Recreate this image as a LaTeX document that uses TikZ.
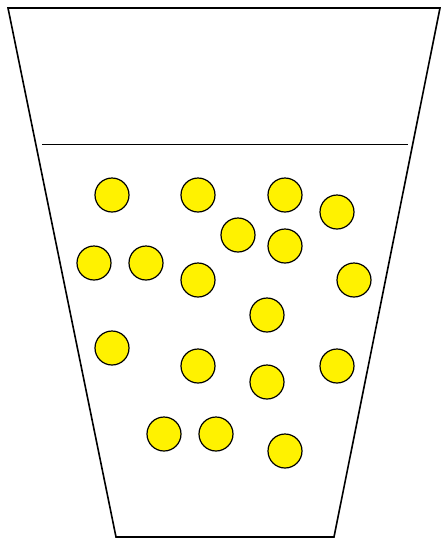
\documentclass[tikz,border=0pt]{standalone}
\begin{document}
\begin{tikzpicture}[x=1pt,y=-1pt,
  cupline/.style={draw=black,line width=1.6pt,line join=miter},
  ball/.style={circle,draw=black,fill=yellow,line width=1.2pt,minimum size=34pt,inner sep=0pt}]
\useasboundingbox (0,0) rectangle (441,539);
\coordinate (tl) at (8,8);
\coordinate (tr) at (440,8);
\coordinate (br) at (334,537);
\coordinate (bl) at (116,537);
\draw[cupline] (tl) -- (tr) -- (br) -- (bl) -- cycle;
\coordinate (wl) at (42,144.5);
\coordinate (wr) at (408,144.5);
\draw[cupline] (wl) -- (wr);
\foreach \i/\x/\y in {1/112/195,2/198/195,3/285/195,4/337/212,5/238/235,6/285/246,
  7/94/263,8/146/263,9/198/280,10/354/280,11/267/315,12/112/348,13/198/366,
  14/267/382,15/337/366,16/164/434,17/216/434,18/285/451}
  \node[ball] (b\i) at (\x,\y) {};
\end{tikzpicture}
\end{document}
